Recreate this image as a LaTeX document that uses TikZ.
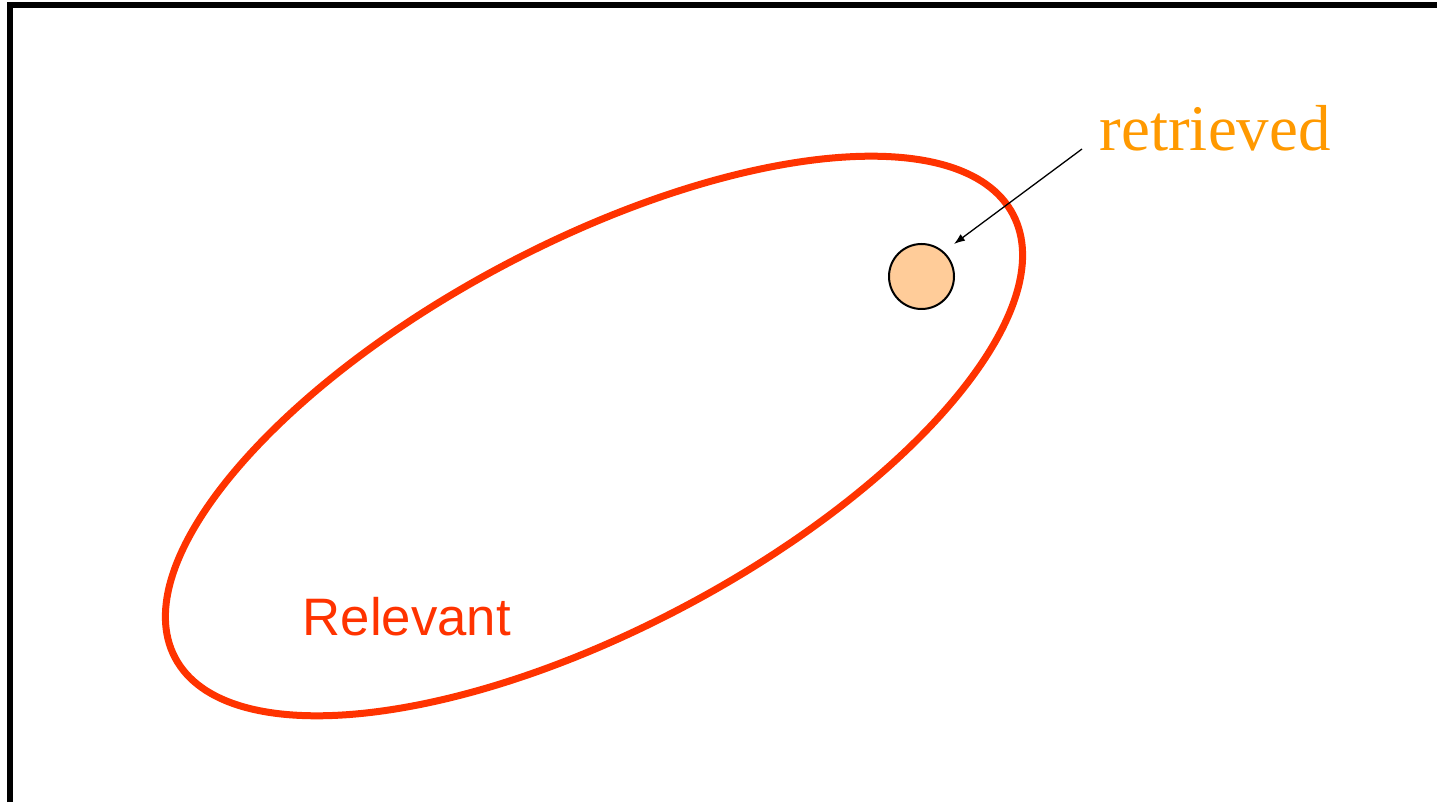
\documentclass[tikz,border=0pt]{standalone}
\usepackage{fontspec}
\setmainfont{Liberation Serif}
\newfontfamily\arialfont{Liberation Sans}
\usetikzlibrary{arrows.meta}
\definecolor{relred}{HTML}{FF3300}
\definecolor{retorange}{HTML}{FF9900}
\definecolor{retfill}{HTML}{FFCC99}

\begin{document}
\begin{tikzpicture}[every node/.style={inner sep=0pt}]
	\useasboundingbox (0,0) rectangle (14.37,8.02);
	% frame
	\draw[line width=0.06cm, line join=miter] (0.10,0) -- (0.10,7.97) -- (14.50,7.97);
	% relevant set
	\draw[relred, line width=0.07cm, rotate around={27.9:(5.94,3.66)}] (5.94,3.66) ellipse (4.74 and 1.93);
	\node[anchor=base west, text=relred, font=\arialfont\fontsize{15pt}{18pt}\selectfont] (rellab) at (3.02,1.66) {Relevant};
	% retrieved item
	\node[circle, draw, line width=0.02cm, fill=retfill, minimum size=0.65cm] (ret) at (9.215,5.255) {};
	\node[anchor=base west, text=retorange, font=\fontsize{18.5pt}{22pt}\selectfont] (retlab) at (10.99,6.51) {retrieved};
	\coordinate (tail) at (10.82,6.53);
	\coordinate (tip) at (9.54,5.58);
	\draw[line width=0.013cm, -{Latex[length=0.11cm,width=0.08cm]}] (tail) -- (tip);
\end{tikzpicture}
\end{document}
